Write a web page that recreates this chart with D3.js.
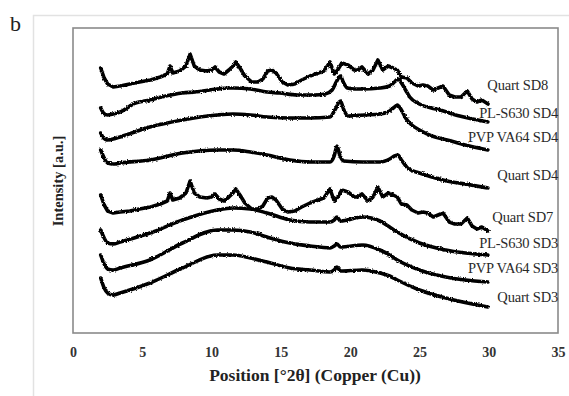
<!DOCTYPE html>
<html>
<head>
<meta charset="utf-8">
<script src="https://cdn.jsdelivr.net/npm/d3@7"></script>
<style>
  body { margin: 0; background: #fff; }
  text { font-family: 'Liberation Serif', 'Times New Roman', serif; }
</style>
</head>
<body>
<div id="chart"></div>
<script>
// [2theta, intensity a.u.], top to bottom
const quartSD8 = [
  [2.0,265],[2.25,255],[2.5,249],[2.9,246],[3.4,247],[4.1,249],[4.8,251],[5.6,253],[6.3,256],[6.8,259],
  [7.0,267],[7.2,260],[7.7,262],[8.15,267],[8.45,279],[8.75,267],[9.15,263],[9.65,262],[10.0,263],[10.25,266],
  [10.55,261],[10.9,259],[11.25,263],[11.55,267],[11.75,271],[12.05,265],[12.4,257],[12.9,251],[13.35,251],[13.7,254],
  [14.05,262],[14.35,263],[14.65,260],[15.1,251],[15.5,248],[16.0,249],[16.5,253],[17.1,257],[17.7,260],[18.1,262],
  [18.55,271],[18.85,259],[19.1,263],[19.4,270],[19.85,268],[20.3,263],[20.55,263],[20.85,266],[21.3,259],[21.65,263],
  [22.0,273],[22.35,263],[22.75,267],[23.1,265],[23.4,263],[23.7,256],[24.1,255],[24.45,250],[24.9,247],[25.25,248],
  [25.6,247],[26.0,243],[26.35,245],[26.7,247],[27.15,238],[27.55,236],[28.0,236],[28.45,242],[28.8,234],[29.15,231],
  [29.5,233],[29.95,229]
];
const plS630SD4 = [
  [2.0,225],[2.2,220],[2.5,218],[2.9,219],[3.4,221],[4.5,230],[5.55,233],[6.4,236],[7.9,240],[8.8,241],
  [10.4,244],[11.2,245],[11.55,245],[12.8,244],[14.0,241],[14.9,240],[16.2,238],[17.45,238],[18.2,239],[18.7,243],
  [19.0,251],[19.3,257],[19.5,251],[19.8,245],[20.35,244],[20.9,244],[22.15,245],[22.85,247],[23.2,251],[23.45,254],
  [23.75,249],[24.0,243],[24.3,236],[25.0,229],[26.5,223],[27.9,217],[29.94,211]
];
const pvpVA64SD4 = [
  [2.0,200],[2.2,195],[2.5,193],[2.9,194],[3.4,196],[5.55,206],[7.9,213],[10.4,218],[11.55,219],[12.8,218],
  [14.0,216],[15.65,215],[17.1,215],[18.55,216],[18.9,223],[19.3,232],[19.55,223],[19.85,217],[21.0,218],[22.15,219],
  [22.85,222],[23.2,226],[23.4,228],[23.7,223],[24.0,215],[24.45,208],[25.0,203],[25.9,197],[27.0,193],[28.3,188],
  [29.94,183]
];
const quartSD4 = [
  [2.0,183],[2.25,175],[2.5,170],[2.9,169],[3.4,170],[5.55,173],[7.9,180],[10.4,183],[11.55,183],[12.8,181],
  [14.0,178],[15.65,173],[17.1,171],[18.55,171],[18.85,177],[19.05,187],[19.25,178],[19.55,172],[20.9,171],[22.15,171],
  [22.85,174],[23.2,177],[23.45,178],[23.7,173],[24.15,165],[25.0,160],[25.9,156],[27.0,152],[28.3,149],[29.94,145]
];
const quartSD7 = [
  [2.0,138],[2.25,128],[2.5,122],[2.9,120],[3.4,121],[4.1,122],[4.8,124],[5.6,126],[6.3,129],[6.8,132],
  [7.0,140],[7.2,133],[7.7,135],[8.15,140],[8.45,152],[8.75,140],[9.15,136],[9.65,135],[10.0,136],[10.25,139],
  [10.55,134],[10.9,132],[11.25,136],[11.55,140],[11.75,144],[12.05,138],[12.4,130],[12.9,124],[13.35,124],[13.7,127],
  [14.05,135],[14.35,136],[14.65,133],[15.1,124],[15.5,121],[16.0,122],[16.5,126],[17.1,130],[17.7,133],[18.1,135],
  [18.55,144],[18.85,132],[19.1,136],[19.4,143],[19.85,141],[20.3,136],[20.55,136],[20.85,139],[21.3,132],[21.65,136],
  [22.0,146],[22.35,136],[22.75,140],[23.1,138],[23.4,136],[23.7,129],[24.1,128],[24.45,123],[24.9,120],[25.25,121],
  [25.6,120],[26.0,116],[26.35,118],[26.7,120],[27.15,111],[27.55,109],[28.0,109],[28.45,115],[28.8,107],[29.15,104],
  [29.5,106],[29.95,102]
];
const plS630SD3 = [
  [2.0,103],[2.25,95],[2.5,90],[2.9,89],[3.4,91],[5.55,100],[7.9,113],[10.4,123],[11.55,125],[12.8,124],
  [14.0,120],[15.65,113],[17.1,111],[18.55,111],[18.85,113],[19.05,116],[19.3,112],[20.9,116],[22.15,112],[22.85,106],
  [23.4,101],[25.0,90],[26.9,83],[29.94,78]
];
const pvpVA64SD3 = [
  [2.0,78],[2.25,69],[2.5,64],[2.9,63],[3.4,65],[5.55,73],[7.9,90],[10.4,103],[11.55,103],[12.8,101],
  [14.0,96],[15.65,90],[17.1,87],[18.55,85],[18.85,87],[19.05,89],[19.3,86],[20.9,88],[22.15,83],[22.85,78],
  [23.4,73],[25.0,63],[26.9,56],[29.94,51]
];
const quartSD3 = [
  [2.0,55],[2.25,45],[2.5,40],[2.9,38],[3.4,40],[5.55,50],[7.9,65],[10.4,78],[11.55,78],[12.8,75],
  [14.0,71],[15.65,65],[17.1,63],[18.55,61],[18.85,63],[19.05,66],[19.3,62],[20.9,63],[22.15,60],[22.85,57],
  [23.4,53],[25.0,43],[26.9,35],[29.94,26]
];

const seriesNames = ['Quart SD8', 'PL-S630 SD4', 'PVP VA64 SD4', 'Quart SD4',
  'Quart SD7', 'PL-S630 SD3', 'PVP VA64 SD3', 'Quart SD3'];
const seriesData = [quartSD8, plS630SD4, pvpVA64SD4, quartSD4,
  quartSD7, plS630SD3, pvpVA64SD3, quartSD3];
const xTicks = [0, 5, 10, 15, 20, 25, 30, 35];

const width = 569;
const height = 396;
const margin = {top: 28, right: 11, bottom: 63, left: 73};
const plotW = width - margin.left - margin.right;
const plotH = height - margin.top - margin.bottom;

// label anchors (right edge, baseline) in pixels
const labelX = [548, 558, 558, 558, 553, 558, 558, 558];
const labelY = [90, 118, 142, 180, 222, 248, 273, 302];

const svg = d3.select('#chart')
  .append('svg')
  .attr('width', width)
  .attr('height', height);

// jitter so the traces look like noisy counts
const defs = svg.append('defs');
const filt = defs.append('filter')
  .attr('id', 'noise')
  .attr('x', '-5%').attr('y', '-20%')
  .attr('width', '110%').attr('height', '140%');
filt.append('feTurbulence')
  .attr('type', 'fractalNoise')
  .attr('baseFrequency', 0.8)
  .attr('numOctaves', 1)
  .attr('seed', 3)
  .attr('result', 't');
filt.append('feDisplacementMap')
  .attr('in', 'SourceGraphic')
  .attr('in2', 't')
  .attr('scale', 3)
  .attr('xChannelSelector', 'R')
  .attr('yChannelSelector', 'G');

// outer figure frame
svg.append('path')
  .attr('d', `M33.5,${height + 2} V15.5 H${width + 2}`)
  .attr('fill', 'none')
  .attr('stroke', '#e2e2e2')
  .attr('stroke-width', 1.5);

svg.append('text')
  .attr('x', 10)
  .attr('y', 31)
  .attr('font-size', 22)
  .attr('fill', '#222')
  .text('b');

const x = d3.scaleLinear()
  .domain([0, 35])
  .range([margin.left, margin.left + plotW]);

const y = d3.scaleLinear()
  .domain([0, 305])
  .range([margin.top + plotH, margin.top]);

// plot box
svg.append('rect')
  .attr('x', margin.left)
  .attr('y', margin.top)
  .attr('width', plotW)
  .attr('height', plotH)
  .attr('fill', 'none')
  .attr('stroke', '#8a8a8a')
  .attr('stroke-width', 1.6);

const xAxis = svg.append('g')
  .attr('transform', `translate(0,${margin.top + plotH})`)
  .call(d3.axisBottom(x).tickValues(xTicks).tickSize(0).tickPadding(14).tickFormat(d3.format('d')));
xAxis.select('.domain').remove();
xAxis.selectAll('text')
  .attr('font-family', "'Liberation Serif', serif")
  .attr('font-size', 14)
  .attr('font-weight', 'bold')
  .attr('fill', '#333');

const yAxis = svg.append('g')
  .attr('transform', `translate(${margin.left},0)`)
  .call(d3.axisLeft(y).tickValues([]).tickSize(0));
yAxis.select('.domain').remove();

svg.append('text')
  .attr('x', 315)
  .attr('y', 381)
  .attr('text-anchor', 'middle')
  .attr('font-size', 17.5)
  .attr('font-weight', 'bold')
  .attr('fill', '#222')
  .text('Position [°2θ] (Copper (Cu))');

svg.append('text')
  .attr('transform', 'translate(63,181) rotate(-90)')
  .attr('text-anchor', 'middle')
  .attr('font-size', 14.5)
  .attr('font-weight', 'bold')
  .attr('fill', '#222')
  .text('Intensity [a.u.]');

const line = d3.line()
  .x(d => x(d[0]))
  .y(d => y(d[1]));

const traces = svg.append('g')
  .attr('filter', 'url(#noise)');

traces.selectAll('path')
  .data(seriesData).enter()
  .append('path')
  .attr('d', (d, i) => line.curve(i === 0 || i === 4 ? d3.curveLinear : d3.curveMonotoneX)(d))
  .attr('fill', 'none')
  .attr('stroke', '#000')
  .attr('stroke-width', 3.6)
  .attr('stroke-linejoin', 'round')
  .attr('stroke-linecap', 'round');

svg.selectAll('text.label')
  .data(seriesNames).enter()
  .append('text')
  .attr('class', 'label')
  .attr('x', (d, i) => labelX[i])
  .attr('y', (d, i) => labelY[i])
  .attr('text-anchor', 'end')
  .attr('font-size', 14.5)
  .attr('letter-spacing', -0.2)
  .attr('fill', '#2a2a2a')
  .text(d => d);
</script>
</body>
</html>
